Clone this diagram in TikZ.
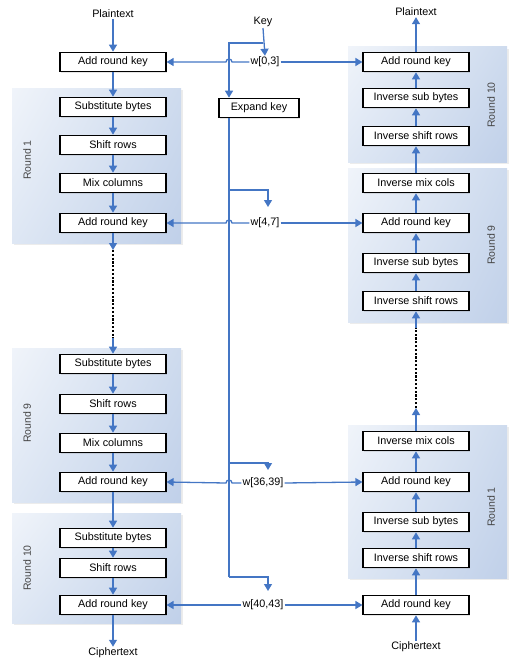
\documentclass[tikz,border=0pt]{standalone}
\usepackage{fontspec}
\setmainfont{Liberation Sans}
\usepackage{tikz}
\usetikzlibrary{arrows.meta, positioning, calc, shadows, shadings}
\definecolor{aesblue}{RGB}{68,118,196}
\definecolor{paneltl}{RGB}{240,244,250}
\definecolor{paneltr}{RGB}{206,219,238}
\definecolor{panelbl}{RGB}{222,231,244}
\definecolor{panelbr}{RGB}{192,208,233}
\definecolor{roundgray}{RGB}{70,70,70}
\tikzset{
  stepbox/.style={rectangle, draw=black, fill=white,
    minimum width=106pt, minimum height=19.5pt, inner sep=0pt,
    line width=1.1pt, font=\fontsize{10.8}{12}\selectfont,
    drop shadow={shadow xshift=1pt, shadow yshift=-1pt, opacity=0.2}},
  keybox/.style={stepbox, minimum width=80pt},
  panel/.style={draw=none, upper left=paneltl, upper right=paneltr,
    lower left=panelbl, lower right=panelbr,
    drop shadow={shadow xshift=2pt, shadow yshift=-2pt, opacity=0.15}},
  roundlbl/.style={rotate=90, text=roundgray, font=\fontsize{10.5}{12}\selectfont},
  txt/.style={font=\fontsize{10.8}{12}\selectfont, inner sep=1pt},
  arrow/.style={-{Triangle[length=7pt, width=8pt]}, line width=1.3pt, color=aesblue},
  line/.style={line width=1.3pt, color=aesblue},
  dots/.style={line width=2.4pt, dash pattern=on 2.2pt off 1.6pt, color=black}
}

\begin{document}
\begin{tikzpicture}[x=1pt, y=-1pt]
  \useasboundingbox (0,0) rectangle (511,661);

  % Panels (rounds)
  \path[panel] (12,88) rectangle (181,243);
  \path[panel] (12,348) rectangle (181,502);
  \path[panel] (12,513) rectangle (181,623);
  \path[panel] (348,47) rectangle (507,162);
  \path[panel] (348,168) rectangle (507,322);
  \path[panel] (348,425) rectangle (507,578);

  \node[roundlbl] (lr1) at (27,160) {Round 1};
  \node[roundlbl] (lr9) at (27,423) {Round 9};
  \node[roundlbl] (lr10) at (27,568) {Round 10};
  \node[roundlbl] (rr10) at (491,105) {Round 10};
  \node[roundlbl] (rr9) at (491,245) {Round 9};
  \node[roundlbl] (rr1) at (491,507) {Round 1};

  % Encryption (left)
  \node[txt] (ptin) at (113,14) {Plaintext};
  \node[stepbox] (ark0) at (113,62) {Add round key};
  \node[stepbox] (sb1) at (113,107) {Substitute bytes};
  \node[stepbox] (sr1) at (113,145) {Shift rows};
  \node[stepbox] (mc1) at (113,183) {Mix columns};
  \node[stepbox] (ark1) at (113,223) {Add round key};
  \node[stepbox] (sb9) at (113,364) {Substitute bytes};
  \node[stepbox] (sr9) at (113,404) {Shift rows};
  \node[stepbox] (mc9) at (113,443) {Mix columns};
  \node[stepbox] (ark9) at (113,482) {Add round key};
  \node[stepbox] (sb10) at (113,538) {Substitute bytes};
  \node[stepbox] (sr10) at (113,568) {Shift rows};
  \node[stepbox] (ark10) at (113,605) {Add round key};
  \node[txt] (ctout) at (113,653) {Ciphertext};

  % Decryption (right)
  \node[txt] (ptout) at (416,12) {Plaintext};
  \node[stepbox] (dark10) at (416,62) {Add round key};
  \node[stepbox] (isb10) at (416,98) {Inverse sub bytes};
  \node[stepbox] (isr10) at (416,136) {Inverse shift rows};
  \node[stepbox] (imc9) at (416,183) {Inverse mix cols};
  \node[stepbox] (dark9) at (416,223) {Add round key};
  \node[stepbox] (isb9) at (416,263) {Inverse sub bytes};
  \node[stepbox] (isr9) at (416,301) {Inverse shift rows};
  \node[stepbox] (imc1) at (416,441) {Inverse mix cols};
  \node[stepbox] (dark1) at (416,482) {Add round key};
  \node[stepbox] (isb1) at (416,522) {Inverse sub bytes};
  \node[stepbox] (isr1) at (416,558) {Inverse shift rows};
  \node[stepbox] (dark0) at (416,605) {Add round key};
  \node[txt] (ctin) at (416,647) {Ciphertext};

  % Key schedule
  \node[txt] (key) at (263,22) {Key};
  \node[keybox] (expand) at (259,108) {Expand key};
  \node[txt] (w0) at (265,62) {w[0,3]};
  \node[txt] (w1) at (265,223) {w[4,7]};
  \node[txt] (w9) at (263,483) {w[36,39]};
  \node[txt] (w10) at (263,605) {w[40,43]};

  \coordinate (keyjoin) at (263,43);
  \coordinate (bus) at (229,43);
  \coordinate (busend) at (229,577);
  \coordinate (tap1) at (268,207);
  \coordinate (tap9) at (268,470);
  \coordinate (tap10) at (268,591);

  \draw[arrow] (key.south) -- (w0.north);
  \draw[arrow] (keyjoin) -- (bus) -- (bus |- expand.north);
  \draw[line] (bus |- expand.south) -- (busend);
  \draw[arrow] (bus |- 0,190) -| (tap1);
  \draw[arrow] (bus |- 0,463) -| (tap9);
  \draw[arrow] (busend) -| (tap10);

  % Round keys to the boxes (with hops over the bus)
  \draw[arrow] (w0.west) -- ([xshift=3pt]bus |- w0) arc[start angle=0, end angle=180, radius=3pt] -- (ark0.east);
  \draw[arrow] (w1.west) -- ([xshift=3pt]bus |- w1) arc[start angle=0, end angle=180, radius=3pt] -- (ark1.east);
  \draw[arrow] (w9.west) -- ([xshift=3pt]bus |- w9) arc[start angle=0, end angle=180, radius=3pt] -- (ark9.east);
  \draw[arrow] (w10.west) -- (ark10.east);
  \draw[arrow] (w0.east) -- (dark10.west);
  \draw[arrow] (w1.east) -- (dark9.west);
  \draw[arrow] (w9.east) -- (dark1.west);
  \draw[arrow] (w10.east) -- (dark0.west);

  % Encryption flow
  \draw[arrow] (ptin.south) -- (ark0.north);
  \draw[arrow] (ark0.south) -- (sb1.north);
  \draw[arrow] (sb1.south) -- (sr1.north);
  \draw[arrow] (sr1.south) -- (mc1.north);
  \draw[arrow] (mc1.south) -- (ark1.north);
  \coordinate (dl1) at (113,250);
  \coordinate (dl2) at (113,338);
  \draw[arrow] (ark1.south) -- (dl1);
  \draw[dots] (dl1) -- (dl2);
  \draw[arrow] (dl2) -- (sb9.north);
  \draw[arrow] (sb9.south) -- (sr9.north);
  \draw[arrow] (sr9.south) -- (mc9.north);
  \draw[arrow] (mc9.south) -- (ark9.north);
  \draw[arrow] (ark9.south) -- (sb10.north);
  \draw[arrow] (sb10.south) -- (sr10.north);
  \draw[arrow] (sr10.south) -- (ark10.north);
  \draw[arrow] (ark10.south) -- (ctout.north);

  % Decryption flow
  \draw[arrow] (ctin.north) -- (dark0.south);
  \draw[arrow] (dark0.north) -- (isr1.south);
  \draw[arrow] (isr1.north) -- (isb1.south);
  \draw[arrow] (isb1.north) -- (dark1.south);
  \draw[arrow] (dark1.north) -- (imc1.south);
  \coordinate (dr1) at (416,408);
  \coordinate (dr2) at (416,328);
  \draw[arrow] (imc1.north) -- (dr1);
  \draw[dots] (dr1) -- (dr2);
  \draw[arrow] (dr2) -- (isr9.south);
  \draw[arrow] (isr9.north) -- (isb9.south);
  \draw[arrow] (isb9.north) -- (dark9.south);
  \draw[arrow] (dark9.north) -- (imc9.south);
  \draw[arrow] (imc9.north) -- (isr10.south);
  \draw[arrow] (isr10.north) -- (isb10.south);
  \draw[arrow] (isb10.north) -- (dark10.south);
  \draw[arrow] (dark10.north) -- (ptout.south);
\end{tikzpicture}
\end{document}
